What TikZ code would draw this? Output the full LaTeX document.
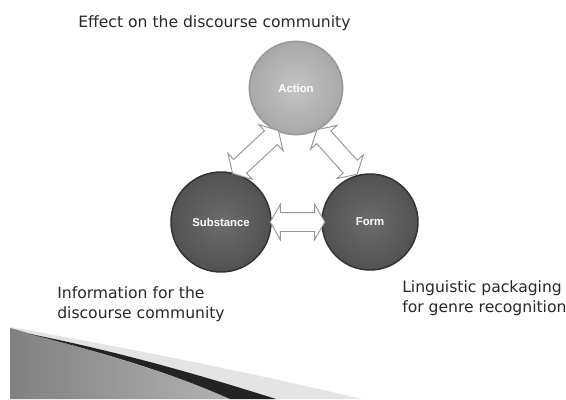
\documentclass[tikz,border=0pt]{standalone}
\usepackage{fontspec}
\setmainfont{DejaVu Sans}
\newfontfamily\ballfont{Liberation Sans}
\usepackage{tikz}
\usetikzlibrary{shapes.arrows, positioning, calc}
\definecolor{lightfill}{RGB}{196,196,196}
\definecolor{lightrim}{RGB}{168,168,168}
\definecolor{lightedge}{RGB}{150,150,150}
\definecolor{darkfill}{RGB}{108,108,108}
\definecolor{darkrim}{RGB}{82,82,82}
\definecolor{darkedge}{RGB}{50,50,50}
\definecolor{arrowedge}{RGB}{150,150,150}
\definecolor{labeltext}{RGB}{40,40,40}
\definecolor{swooshdark}{RGB}{35,35,35}
\definecolor{swooshlight}{RGB}{228,228,228}
\definecolor{swooshleft}{RGB}{128,128,128}
\definecolor{swooshright}{RGB}{178,178,178}
\tikzset{
  ball/.style={circle, shade, line width=1.1pt, inner sep=0pt, text=white, font=\ballfont\bfseries\fontsize{8.5}{10}\selectfont},
  lightball/.style={ball, draw=lightedge, inner color=lightfill, outer color=lightrim},
  darkball/.style={ball, draw=darkedge, inner color=darkfill, outer color=darkrim},
  dblarrow/.style={double arrow, draw=arrowedge, fill=white, line width=0.7pt, inner xsep=0pt, inner ysep=6.75pt, text height=0pt, text depth=0pt, double arrow head extend=6.25pt, double arrow tip angle=120},
  desc/.style={inner sep=0pt, align=left, text=labeltext, font=\fontsize{11.7}{15}\selectfont}
}

\begin{document}
\begin{tikzpicture}[x=0.75pt, y=-0.75pt]
  \useasboundingbox[fill=white] (0,0) rectangle (566,399);

  % swoosh in the lower left corner
  \fill[swooshlight] (10,327) .. controls (150,352) and (260,375) .. (362,399) -- (10,399) -- cycle;
  \shade[left color=swooshleft, right color=swooshright] (10,328) .. controls (90,350) and (170,372) .. (230,399) -- (10,399) -- cycle;
  \fill[swooshdark] (30,334) .. controls (120,352) and (200,375) .. (276,399) -- (230,399) .. controls (170,372) and (100,352) .. (30,334) -- cycle;

  \node[lightball, minimum size=70pt] (action) at (296,88) {Action};
  \node[darkball, minimum size=75pt] (substance) at (221,222) {Substance};
  \node[darkball, minimum size=72pt] (form) at (370,222) {Form};

  \node[dblarrow, minimum height=47pt, rotate=43] (subact) at ($(substance)!0.5!(action)+(-3,-3)$) {};
  \node[dblarrow, minimum height=45pt, rotate=-48] (actform) at ($(action)!0.5!(form)+(4,-3)$) {};
  \node[dblarrow, minimum height=41pt] (subform) at ($(substance)!0.5!(form)+(2,0)$) {};

  \node[desc, anchor=base west] (effect) at (78,28) {Effect on the discourse community};
  \node[desc, anchor=north west] (info) at (57,286) {Information for the\\discourse community};
  \node[desc, anchor=north west] (packaging) at (402,280) {Linguistic packaging\\for genre recognition};
\end{tikzpicture}
\end{document}
